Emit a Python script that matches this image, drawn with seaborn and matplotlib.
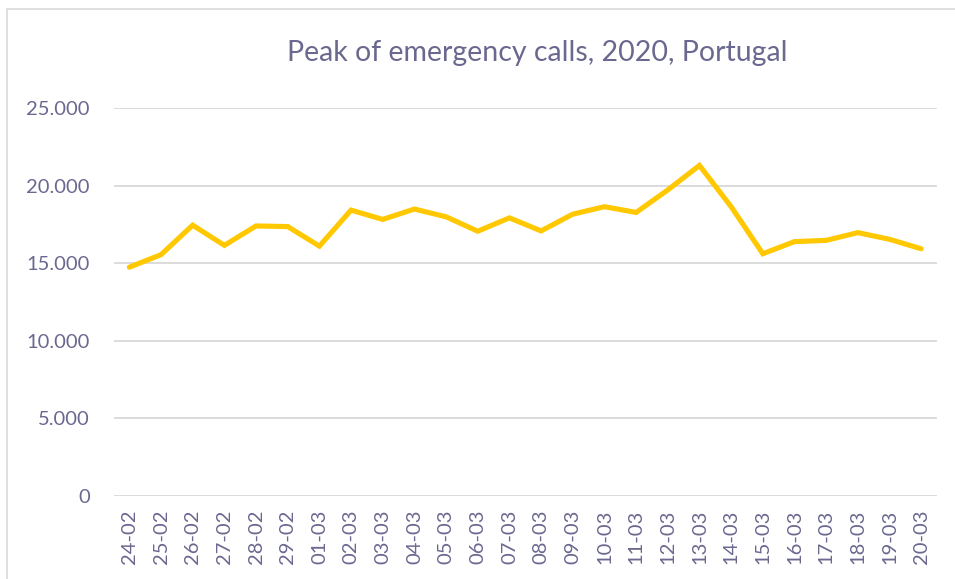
import matplotlib
matplotlib.use("Agg")
import matplotlib.pyplot as plt
from matplotlib.ticker import FuncFormatter
from matplotlib.patches import Rectangle
import seaborn as sns
import pandas as pd

# Daily peak of emergency calls in Portugal, 24 Feb - 20 Mar 2020
dates = ["24-02", "25-02", "26-02", "27-02", "28-02", "29-02", "01-03", "02-03",
         "03-03", "04-03", "05-03", "06-03", "07-03", "08-03", "09-03", "10-03",
         "11-03", "12-03", "13-03", "14-03", "15-03", "16-03", "17-03", "18-03",
         "19-03", "20-03"]
calls = [14740, 15550, 17450, 16150, 17400, 17360, 16100, 18420,
         17820, 18490, 17990, 17060, 17920, 17080, 18160, 18640,
         18270, 19720, 21300, 18640, 15610, 16390, 16470, 16970,
         16540, 15930]
y_ticks = [0, 5000, 10000, 15000, 20000, 25000]

df = pd.DataFrame({"date": dates, "calls": calls, "pos": range(len(dates))})

sns.set_theme(style="white")
plt.rcParams["font.family"] = ["Lato", "DejaVu Sans"]

text_color = "#6B6890"
W, H = 955, 579
fig = plt.figure(figsize=(W / 100, H / 100), dpi=100)
ax = fig.add_axes([113.5 / W, 1 - 496 / H, (937 - 113.5) / W, (496 - 108) / H])

sns.lineplot(data=df, x="pos", y="calls", ax=ax, color="#FFC800",
             linewidth=3.7, solid_capstyle="round", solid_joinstyle="miter")

ax.set_xlim(-0.5, len(dates) - 0.5)
ax.set_ylim(0, 25000)
ax.set_yticks(y_ticks)
ax.yaxis.set_major_formatter(FuncFormatter(lambda v, _: f"{int(v):,}".replace(",", ".")))
ax.set_xticks(range(len(dates)))
ax.set_xticklabels(dates, rotation=90)
ax.tick_params(axis="both", length=0, labelcolor=text_color, labelsize=14.5)
ax.tick_params(axis="y", pad=17)
ax.tick_params(axis="x", pad=10)
ax.set_xlabel("")
ax.set_ylabel("")
ax.grid(axis="y", color="#D9D9D9", linewidth=1.3)
ax.set_axisbelow(True)
for s in ax.spines.values():
    s.set_visible(False)

fig.text(537 / W, 1 - 53 / H, "Peak of emergency calls, 2020, Portugal",
         ha="center", va="center", fontsize=20.5, color=text_color)

# chart-area frame
fig.patches.append(Rectangle((6.5 / W, -0.1), 1.2, 1 - 9 / H + 0.1,
                             transform=fig.transFigure, fill=False,
                             edgecolor="#D9D9D9", linewidth=1.2))

fig.savefig("out.png", dpi=100)
